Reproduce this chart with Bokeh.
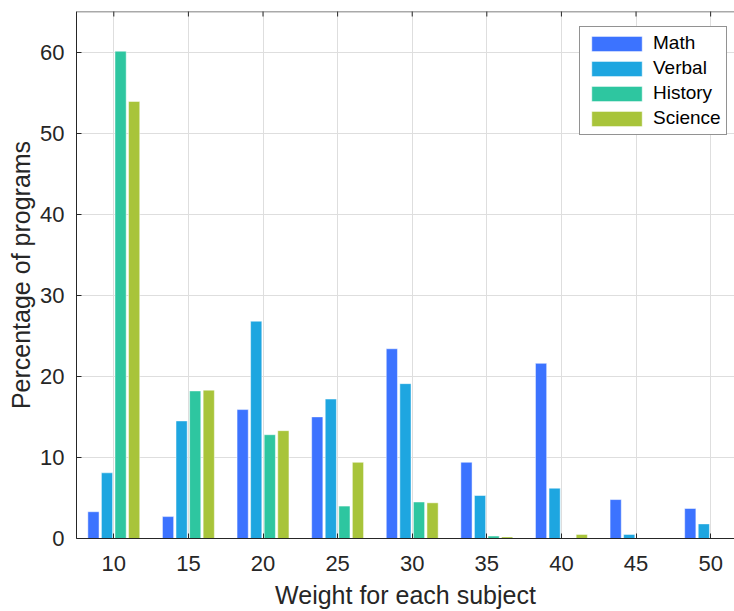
from bokeh.plotting import figure
from bokeh.models import ColumnDataSource, FixedTicker, Range1d, Legend, LegendItem, Span
from bokeh.transform import dodge
from bokeh.embed import file_html
from bokeh.resources import INLINE
import math as _m

weights = [10, 15, 20, 25, 30, 35, 40, 45, 50]
math = [3.3, 2.7, 15.9, 15.0, 23.4, 9.4, 21.6, 4.8, 3.7]
verbal = [8.1, 14.5, 26.8, 17.2, 19.1, 5.3, 6.2, 0.5, 1.8]
history = [60.1, 18.2, 12.8, 4.0, 4.5, 0.3, 0.0, 0.0, 0.0]
science = [53.9, 18.3, 13.3, 9.4, 4.4, 0.2, 0.5, 0.0, 0.0]
y_ticks = [0, 10, 20, 30, 40, 50, 60]

series = [("Math", math, "#3C73FF"), ("Verbal", verbal, "#1EA6E0"),
          ("History", history, "#2EC6A0"), ("Science", science, "#A8C43A")]
offsets = [-1.364, -0.455, 0.455, 1.364]

Y_MAX = 65
src = ColumnDataSource(dict(w=weights, Math=math, Verbal=verbal, History=history, Science=science,
                            top=[Y_MAX] * len(weights)))

FONT = "Liberation Sans"
AX = "#262626"

p = figure(width=734, height=611, x_range=Range1d(7.5, 51.6), y_range=Range1d(0, Y_MAX),
           output_backend="svg", toolbar_location=None,
           min_border_left=76, min_border_right=0, min_border_top=11, min_border_bottom=72)
p.outline_line_color = None
p.background_fill_color = "white"
p.border_fill_color = "white"

renderers = []
for (name, vals, col), off in zip(series, offsets):
    r = p.vbar(x=dodge("w", off, range=p.x_range), top=name, width=0.75, bottom=0,
               source=src, fill_color=col, line_color="white", line_width=0.8, line_alpha=0.6)
    renderers.append((name, r))

xa = p.below[0]
xa.ticker = FixedTicker(ticks=weights)
ya = p.left[0]
ya.ticker = FixedTicker(ticks=y_ticks)
for ax in (xa, ya):
    ax.major_tick_in = 5
    ax.major_tick_out = 0
    ax.minor_tick_in = 0
    ax.minor_tick_out = 0
    ax.axis_line_color = AX
    ax.major_tick_line_color = AX
    ax.major_label_text_font = FONT
    ax.major_label_text_font_size = "22px"
    ax.major_label_text_color = AX
    ax.axis_label_text_font = FONT
    ax.axis_label_text_font_size = "25px"
    ax.axis_label_text_font_style = "normal"
    ax.axis_label_text_color = AX
xa.axis_label = "Weight for each subject"
ya.axis_label = "Percentage of programs"
xa.major_label_standoff = 17
xa.axis_label_standoff = 7
ya.major_label_standoff = 12
ya.axis_label_standoff = 2

# box top edge with inward ticks
p.add_layout(Span(location=Y_MAX, dimension="width", line_color="#555555", line_width=1.5))
p.scatter(x="w", y="top", source=src, marker="dash", angle=_m.pi / 2, size=10,
          line_color=AX, line_width=1)

p.xgrid.ticker = FixedTicker(ticks=weights)
p.ygrid.ticker = FixedTicker(ticks=y_ticks)
for g in (p.xgrid, p.ygrid):
    g.grid_line_color = "#dedede"
    g.grid_line_width = 1

legend = Legend(items=[LegendItem(label=n, renderers=[r]) for n, r in renderers],
                location=(503, 403), glyph_width=63, glyph_height=19,
                label_text_font=FONT, label_text_font_size="19px", label_text_color="#000000",
                label_standoff=5, spacing=3, padding=5, margin=0,
                border_line_color=AX, border_line_width=1,
                background_fill_color="white", background_fill_alpha=1)
p.add_layout(legend, "center")

open("out.html", "w").write(file_html(p, INLINE))
